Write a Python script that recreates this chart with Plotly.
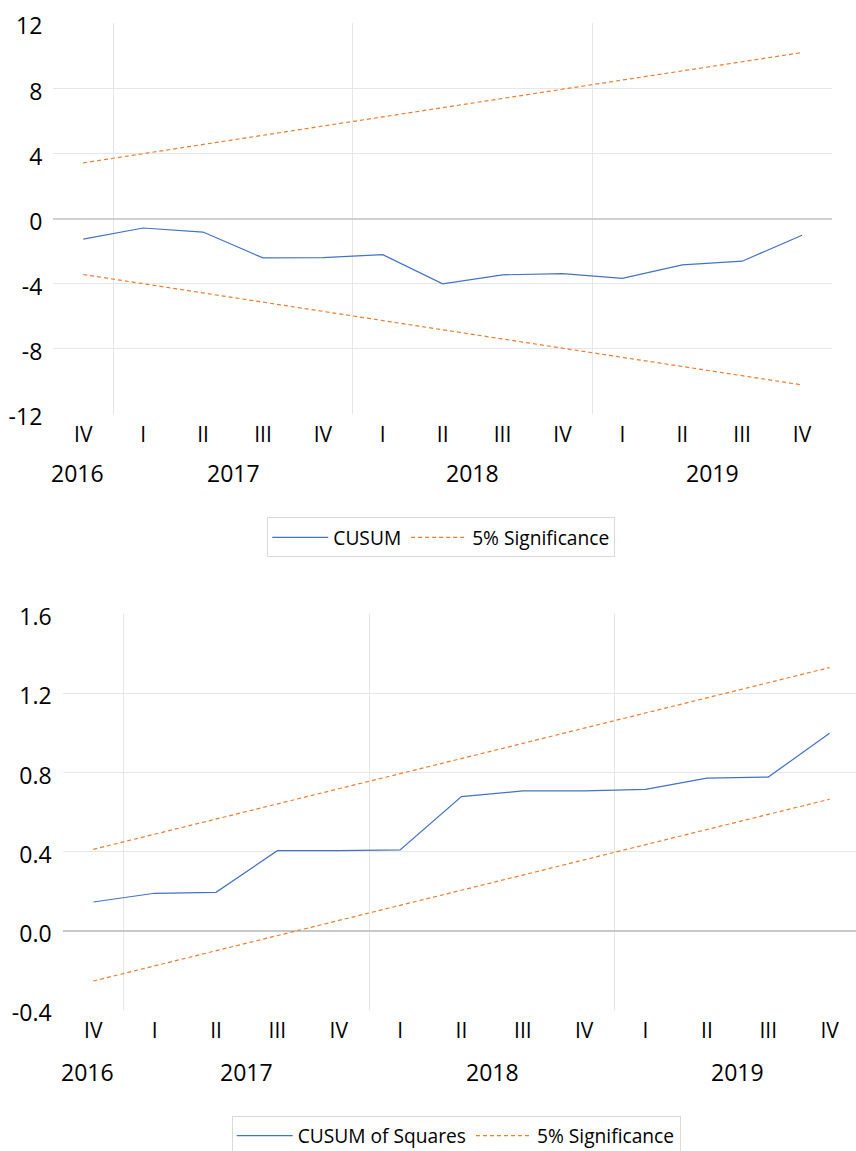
import plotly.graph_objects as go

# ---------------- data ----------------
quarters = ["IV", "I", "II", "III", "IV", "I", "II", "III", "IV", "I", "II", "III", "IV"]
years = ["2016", "2017", "2017", "2017", "2017", "2018", "2018", "2018", "2018",
         "2019", "2019", "2019", "2019"]

cusum = [-1.26, -0.57, -0.82, -2.41, -2.39, -2.21, -4.00, -3.45, -3.37, -3.66, -2.84, -2.61, -1.02]
cusum_upper = [3.43, 4.00, 4.56, 5.13, 5.69, 6.26, 6.82, 7.39, 7.95, 8.52, 9.08, 9.65, 10.21]
cusum_lower = [-3.43, -4.00, -4.56, -5.13, -5.69, -6.26, -6.82, -7.39, -7.95, -8.52, -9.08, -9.65, -10.21]

cusumsq = [0.146, 0.190, 0.195, 0.405, 0.405, 0.409, 0.678, 0.707, 0.707, 0.715, 0.772, 0.777, 0.998]
sq_upper = [0.412, 0.488, 0.565, 0.641, 0.718, 0.794, 0.871, 0.947, 1.024, 1.100, 1.177, 1.253, 1.330]
sq_lower = [-0.253, -0.177, -0.100, -0.024, 0.053, 0.129, 0.206, 0.282, 0.359, 0.435, 0.512, 0.588, 0.665]

y1_tickvals = [-12, -8, -4, 0, 4, 8, 12]
y1_ticktext = ["-12", "-8", "-4", "0", "4", "8", "12"]
y2_tickvals = [-0.4, 0.0, 0.4, 0.8, 1.2, 1.6]
y2_ticktext = ["-0.4", "0.0", "0.4", "0.8", "1.2", "1.6"]

# ---------------- styling helpers ----------------
W, H = 856, 1151
FONT = "Open Sans, Noto Sans, sans-serif"
BLUE = "#4472C4"
ORANGE = "#ED7D31"
GRID = "#E6E6E6"

idx = list(range(len(quarters)))

# group boundaries / centers derived from the year labels
uniq_years = []
for y in years:
    if y not in uniq_years:
        uniq_years.append(y)
year_centers = [sum(i for i in idx if years[i] == y) / years.count(y) for y in uniq_years]
boundaries = [i - 0.5 for i in idx[1:] if years[i] != years[i - 1]]


def px_x(p):
    return p / W


def px_y(p):
    return 1 - p / H


fig = go.Figure()

# top chart
fig.add_trace(go.Scatter(x=idx, y=cusum, mode="lines", name="CUSUM",
                         line=dict(color=BLUE, width=1.2), xaxis="x", yaxis="y",
                         legend="legend"))
fig.add_trace(go.Scatter(x=idx, y=cusum_upper, mode="lines", name="5% Significance",
                         line=dict(color=ORANGE, width=1.2, dash="4px,3px"),
                         xaxis="x", yaxis="y", legend="legend", legendgroup="s1"))
fig.add_trace(go.Scatter(x=idx, y=cusum_lower, mode="lines", name="5% Significance",
                         line=dict(color=ORANGE, width=1.2, dash="4px,3px"),
                         xaxis="x", yaxis="y", legend="legend", legendgroup="s1",
                         showlegend=False))

# bottom chart
fig.add_trace(go.Scatter(x=idx, y=cusumsq, mode="lines", name="CUSUM of Squares",
                         line=dict(color=BLUE, width=1.2), xaxis="x2", yaxis="y2",
                         legend="legend2"))
fig.add_trace(go.Scatter(x=idx, y=sq_upper, mode="lines", name="5% Significance",
                         line=dict(color=ORANGE, width=1.2, dash="4px,3px"),
                         xaxis="x2", yaxis="y2", legend="legend2", legendgroup="s2"))
fig.add_trace(go.Scatter(x=idx, y=sq_lower, mode="lines", name="5% Significance",
                         line=dict(color=ORANGE, width=1.2, dash="4px,3px"),
                         xaxis="x2", yaxis="y2", legend="legend2", legendgroup="s2",
                         showlegend=False))

xcommon = dict(
    tickmode="array", tickvals=idx, ticktext=quarters,
    showgrid=False, zeroline=False, showline=False, ticks="",
    tickfont=dict(family=FONT, size=21, color="#000000"),
    ticklabelstandoff=6,
    minor=dict(tickmode="array", tickvals=boundaries, showgrid=True,
               gridcolor=GRID, gridwidth=1, ticks=""),
    fixedrange=True, automargin=False,
)

legend_common = dict(orientation="h", xanchor="left", yanchor="top",
                     bordercolor="#D9D9D9", borderwidth=1, bgcolor="white",
                     font=dict(family=FONT, size=19.2, color="#000000"),
                     itemwidth=56)

fig.update_layout(
    width=W, height=H,
    margin=dict(l=0, r=0, t=0, b=0, pad=0, autoexpand=False),
    paper_bgcolor="white", plot_bgcolor="white",
    font=dict(family=FONT, color="#000000"),
    xaxis=dict(domain=[px_x(53.3), px_x(832)], range=[-0.5, 12.5], anchor="y", **xcommon),
    yaxis=dict(domain=[px_y(414), px_y(23.4)], range=[-12, 12], anchor="x",
               tickmode="array", tickvals=y1_tickvals, ticktext=y1_ticktext,
               showgrid=False, showline=False, ticks="",
               zeroline=True, zerolinecolor="#D0D0D0", zerolinewidth=2,
               tickfont=dict(family=FONT, size=23, color="#000000"),
               ticklabelstandoff=10, ticklabelshift=3, automargin=False,
               minor=dict(tickmode="array", tickvals=[-8, -4, 4, 8], showgrid=True,
                          gridcolor=GRID, gridwidth=1, ticks=""),
               fixedrange=True),
    xaxis2=dict(domain=[px_x(62.6), 1.0], range=[-0.5, 12.43], anchor="y2", **xcommon),
    yaxis2=dict(domain=[px_y(1010.1), px_y(614.1)], range=[-0.4, 1.6], anchor="x2",
                tickmode="array", tickvals=y2_tickvals, ticktext=y2_ticktext,
                showgrid=False, showline=False, ticks="",
                zeroline=True, zerolinecolor="#C8C8C8", zerolinewidth=1.5,
                tickfont=dict(family=FONT, size=23, color="#000000"),
                ticklabelstandoff=10, ticklabelshift=3, automargin=False,
                minor=dict(tickmode="array", tickvals=[0.4, 0.8, 1.2], showgrid=True,
                           gridcolor=GRID, gridwidth=1, ticks=""),
                fixedrange=True),
    legend=dict(x=px_x(267.3), y=px_y(517.3), **legend_common),
    legend2=dict(x=px_x(231.7), y=px_y(1115.7), **legend_common),
)

ann = []
for yr, cx in zip(uniq_years, year_centers):
    shift = -6 if years.count(yr) == 1 else 0
    ann.append(dict(x=cx, y=px_y(472.5), xref="x", yref="paper", text=yr, showarrow=False,
                    xshift=shift, yanchor="middle",
                    font=dict(family=FONT, size=23, color="#000000")))
    ann.append(dict(x=cx, y=px_y(1071.7), xref="x2", yref="paper", text=yr, showarrow=False,
                    xshift=shift, yanchor="middle",
                    font=dict(family=FONT, size=23, color="#000000")))
fig.update_layout(annotations=ann)

fig.write_html(
    "out.html",
    config={"displayModeBar": False},
    post_script="document.body.style.margin='0';document.documentElement.style.overflow='hidden';document.body.style.overflow='hidden';",
)
